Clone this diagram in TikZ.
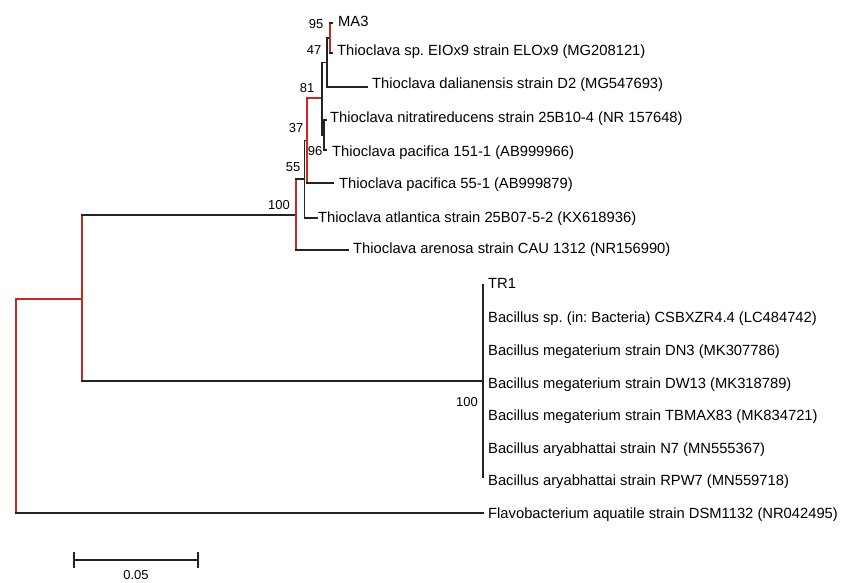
\documentclass[tikz,border=0pt]{standalone}
\usepackage{fontspec}
\setmainfont{Liberation Sans}
\frenchspacing
\definecolor{branchc}{RGB}{35,35,35}
\definecolor{redc}{RGB}{200,40,30}
\begin{document}
\begin{tikzpicture}[x=1bp,y=-1bp,
  br/.style={line width=1.6bp, draw=branchc, line cap=rect},
  rbr/.style={line width=2bp, draw=redc, line cap=rect},
  taxon/.style={anchor=base west, inner sep=0pt, text=black, font=\fontsize{14.8}{16}\selectfont},
  boot/.style={inner sep=0pt, text=black, font=\fontsize{13}{14}\selectfont}]
\useasboundingbox (0,0) rectangle (845,583);
% internal nodes
\coordinate (R) at (16,406);
\coordinate (H) at (82,298.5);
\coordinate (G) at (296,215);
\coordinate (F) at (304.5,179);
\coordinate (D) at (307,140.5);
\coordinate (C) at (322,98.5);
\coordinate (E) at (324,135);
\coordinate (B) at (327,62.5);
\coordinate (A) at (329.5,38);
\coordinate (Bac) at (483,381);
% leaves
\coordinate (lMA3) at (332,23);
\coordinate (lELO) at (332,53);
\coordinate (lDal) at (367,87);
\coordinate (lNit) at (326,120);
\coordinate (lPa) at (326,150);
\coordinate (lPb) at (333,183);
\coordinate (lAtl) at (317,218);
\coordinate (lAre) at (348,250);
\coordinate (lTR) at (483.5,285);
\coordinate (lBsp) at (483.5,317);
\coordinate (lDN) at (483.5,349);
\coordinate (lDW) at (483.5,381);
\coordinate (lTB) at (483.5,413);
\coordinate (lN7) at (483.5,445);
\coordinate (lRP) at (483.5,477);
\coordinate (lFla) at (483,513);
% root
\draw[rbr] (R|-H) -- (R|-lFla);
\draw[rbr] (R|-H) -- (H);
\draw[br] (R|-lFla) -- (lFla);
% H
\draw[rbr] (H|-G) -- (H|-Bac);
\draw[br] (H|-G) -- (G);
\draw[br] (H|-Bac) -- (Bac);
% Bacillus clade
\draw[br] (Bac|-lTR) -- (Bac|-lRP);
\foreach \l in {lTR,lBsp,lDN,lDW,lTB,lN7,lRP} \draw[br] (Bac|-\l) -- (\l);
% G
\draw[rbr] (G|-F) -- (G|-lAre);
\draw[br] (G|-F) -- (F);
\draw[br] (G|-lAre) -- (lAre);
% F
\draw[br] (F|-D) -- (F|-lAtl);
\draw[br] (F|-D) -- (D);
\draw[br] (F|-lAtl) -- (lAtl);
% D
\draw[rbr] (D|-C) -- (D|-lPb);
\draw[rbr] (D|-C) -- (C);
\draw[br] (D|-lPb) -- (lPb);
% C
\draw[br] (C|-B) -- (C|-E);
\draw[br] (C|-B) -- (B);
\draw[br] (C|-E) -- (E);
% E
\draw[br] (E|-lNit) -- (E|-lPa);
\draw[br] (E|-lNit) -- (lNit);
\draw[br] (E|-lPa) -- (lPa);
% B
\draw[br] (B|-A) -- (B|-lDal);
\draw[br] (B|-A) -- (A);
\draw[br] (B|-lDal) -- (lDal);
% A
\draw[rbr] (A|-lMA3) -- (A|-lELO);
\draw[br] (A|-lMA3) -- (lMA3);
\draw[br] (A|-lELO) -- (lELO);
% taxon labels
\node[taxon] (tMA3) at (338,26.3) {MA3};
\node[taxon] (tELO) at (337,55.3) {Thioclava sp. EIOx9 strain ELOx9 (MG208121)};
\node[taxon] (tDal) at (372,88.3) {Thioclava dalianensis strain D2 (MG547693)};
\node[taxon] (tNit) at (330,122.3) {Thioclava nitratireducens strain 25B10-4 (NR 157648)};
\node[taxon] (tPa) at (332,156.3) {Thioclava pacifica 151-1 (AB999966)};
\node[taxon] (tPb) at (339,188.3) {Thioclava pacifica 55-1 (AB999879)};
\node[taxon] (tAtl) at (318,222.3) {Thioclava atlantica strain 25B07-5-2 (KX618936)};
\node[taxon] (tAre) at (353,253.3) {Thioclava arenosa strain CAU 1312 (NR156990)};
\node[taxon] (tTR) at (488,288.3) {TR1};
\node[taxon] (tBsp) at (488,322.3) {Bacillus sp. (in: Bacteria) CSBXZR4.4 (LC484742)};
\node[taxon] (tDN) at (488,355.3) {Bacillus megaterium strain DN3 (MK307786)};
\node[taxon] (tDW) at (488,388.3) {Bacillus megaterium strain DW13 (MK318789)};
\node[taxon] (tTB) at (488,420.3) {Bacillus megaterium strain TBMAX83 (MK834721)};
\node[taxon] (tN7) at (488,453.3) {Bacillus aryabhattai strain N7 (MN555367)};
\node[taxon] (tRP) at (488,485.3) {Bacillus aryabhattai strain RPW7 (MN559718)};
\node[taxon] (tFla) at (488,518.3) {Flavobacterium aquatile strain DSM1132 (NR042495)};
% bootstrap values
\node[boot] (b95) at (316,24) {95};
\node[boot] (b47) at (314,50) {47};
\node[boot] (b81) at (307,88) {81};
\node[boot] (b37) at (296,128) {37};
\node[boot] (b96) at (315,151) {96};
\node[boot] (b55) at (293,167) {55};
\node[boot] (b100a) at (279,205) {100};
\node[boot] (b100b) at (467,402) {100};
% scale bar
\coordinate (s1) at (74,560);
\coordinate (s2) at (198,560);
\draw[br] (s1) -- (s2);
\draw[br] ([yshift=7bp]s1) -- ([yshift=-7bp]s1);
\draw[br] ([yshift=7bp]s2) -- ([yshift=-7bp]s2);
\node[boot] (sl) at (136,575) {0.05};
\end{tikzpicture}
\end{document}
